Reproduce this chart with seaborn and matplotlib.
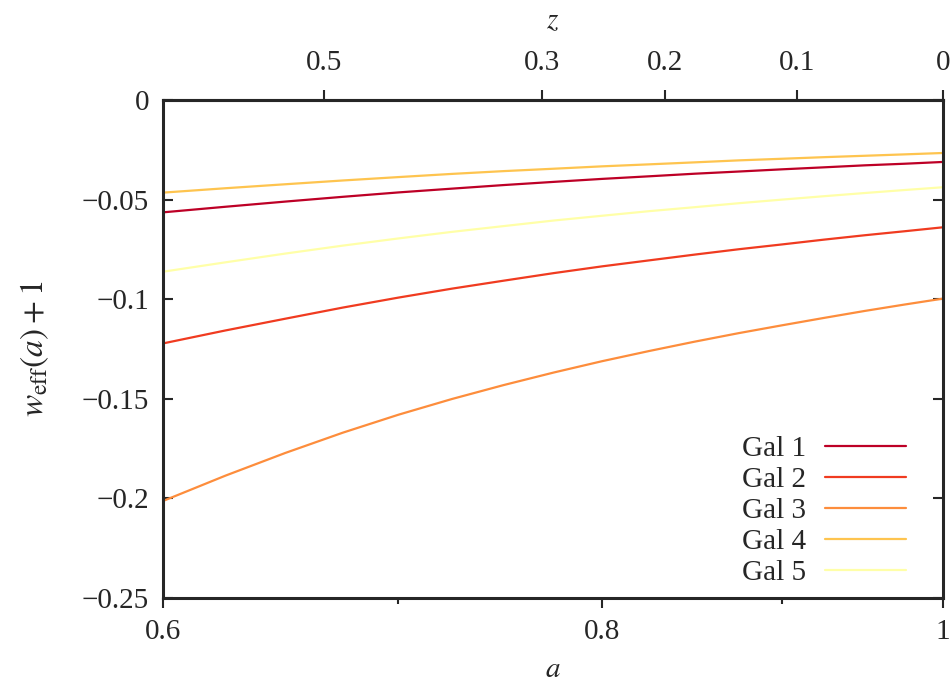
import numpy as np
import pandas as pd
import matplotlib
matplotlib.use("Agg")
import matplotlib.pyplot as plt
from matplotlib.ticker import FixedLocator, NullFormatter
import seaborn as sns

# scale factor grid and w_eff(a)+1
a_vals = [0.6, 0.625, 0.65, 0.675, 0.7, 0.725, 0.75, 0.775, 0.8,
          0.825, 0.85, 0.875, 0.9, 0.925, 0.95, 0.975, 1.0]
gal1 = [-0.0564, -0.0536, -0.0510, -0.0486, -0.0464, -0.0445, -0.0427, -0.0411, -0.0396,
        -0.0383, -0.0370, -0.0359, -0.0348, -0.0338, -0.0328, -0.0320, -0.0311]
gal2 = [-0.1222, -0.1157, -0.1098, -0.1042, -0.0992, -0.0947, -0.0907, -0.0869, -0.0835,
        -0.0805, -0.0776, -0.0749, -0.0725, -0.0701, -0.0679, -0.0659, -0.0639]
gal3 = [-0.2013, -0.1886, -0.1772, -0.1670, -0.1580, -0.1501, -0.1431, -0.1368, -0.1311,
        -0.1260, -0.1213, -0.1170, -0.1131, -0.1094, -0.1059, -0.1027, -0.0997]
gal4 = [-0.0465, -0.0443, -0.0423, -0.0404, -0.0387, -0.0371, -0.0357, -0.0345, -0.0333,
        -0.0323, -0.0313, -0.0303, -0.0295, -0.0287, -0.0280, -0.0273, -0.0266]
gal5 = [-0.0862, -0.0815, -0.0771, -0.0731, -0.0695, -0.0662, -0.0633, -0.0605, -0.0581,
        -0.0558, -0.0538, -0.0518, -0.0500, -0.0483, -0.0467, -0.0452, -0.0438]
names = ["Gal 1", "Gal 2", "Gal 3", "Gal 4", "Gal 5"]
colors = ["#bd0026", "#f03b20", "#fd8d3c", "#fec44f", "#ffffa8"]

x_ticks = [0.6, 0.8, 1.0]
x_labels = ["0.6", "0.8", "1"]
x_minor = [0.7, 0.9]
y_ticks = [0, -0.05, -0.1, -0.15, -0.2, -0.25]
y_labels = ["0", "\u22120.05", "\u22120.1", "\u22120.15", "\u22120.2", "\u22120.25"]
z_ticks = [0.5, 0.3, 0.2, 0.1, 0]
z_labels = ["0.5", "0.3", "0.2", "0.1", "0"]

rows = []
for name, vals in zip(names, [gal1, gal2, gal3, gal4, gal5]):
    for a, w in zip(a_vals, vals):
        rows.append({"a": a, "w": w, "gal": name})
df = pd.DataFrame(rows)

sns.set_style("ticks")
plt.rcParams["font.family"] = ["Liberation Serif", "DejaVu Serif"]
plt.rcParams["mathtext.fontset"] = "stix"
fs = 21

fig = plt.figure(figsize=(9.51, 6.89), dpi=100)
ax = fig.add_axes([163 / 951, 1 - 598 / 689, 780 / 951, 498 / 689])

sns.lineplot(data=df, x="a", y="w", hue="gal", palette=colors, ax=ax,
             linewidth=1.6, legend=True)

ax.set_xscale("log")
ax.set_xlim(0.6, 1.0)
ax.set_ylim(-0.25, 0)
ax.xaxis.set_major_locator(FixedLocator(x_ticks))
ax.set_xticklabels(x_labels)
ax.xaxis.set_minor_locator(FixedLocator(x_minor))
ax.xaxis.set_minor_formatter(NullFormatter())
ax.set_yticks(y_ticks)
ax.set_yticklabels(y_labels)

for s in ax.spines.values():
    s.set_linewidth(2.2)
    s.set_visible(True)
ax.tick_params(axis="x", which="major", direction="out", length=7, width=1.5,
               labelsize=fs, pad=8)
ax.tick_params(axis="x", which="minor", direction="out", length=4, width=1.5)
ax.tick_params(axis="y", which="major", direction="in", length=7, width=1.5,
               labelsize=fs, pad=10, right=True)

sec = ax.secondary_xaxis("top", functions=(lambda a: 1.0 / np.asarray(a) - 1.0,
                                           lambda z: 1.0 / (1.0 + np.asarray(z))))
sec.set_xticks(z_ticks)
sec.set_xticklabels(z_labels)
sec.xaxis.set_minor_locator(FixedLocator([]))
sec.tick_params(axis="x", direction="out", length=7, width=1.5, labelsize=fs, pad=10)
sec.set_xlabel("$z$", fontsize=fs, labelpad=16)
sec.spines["top"].set_linewidth(2.2)

ax.set_xlabel("$a$", fontsize=fs, labelpad=9)
ax.set_ylabel(r"$w_{\rm eff}(a) + 1$", fontsize=24, labelpad=22)

handles, labels = ax.get_legend_handles_labels()
ax.legend(handles, labels, loc="lower right", bbox_to_anchor=(0.953, 0.024),
          frameon=False, markerfirst=False, fontsize=fs, handlelength=2.8,
          handletextpad=0.65, labelspacing=0.16, borderpad=0, borderaxespad=0)

fig.savefig("out.png", dpi=100)
